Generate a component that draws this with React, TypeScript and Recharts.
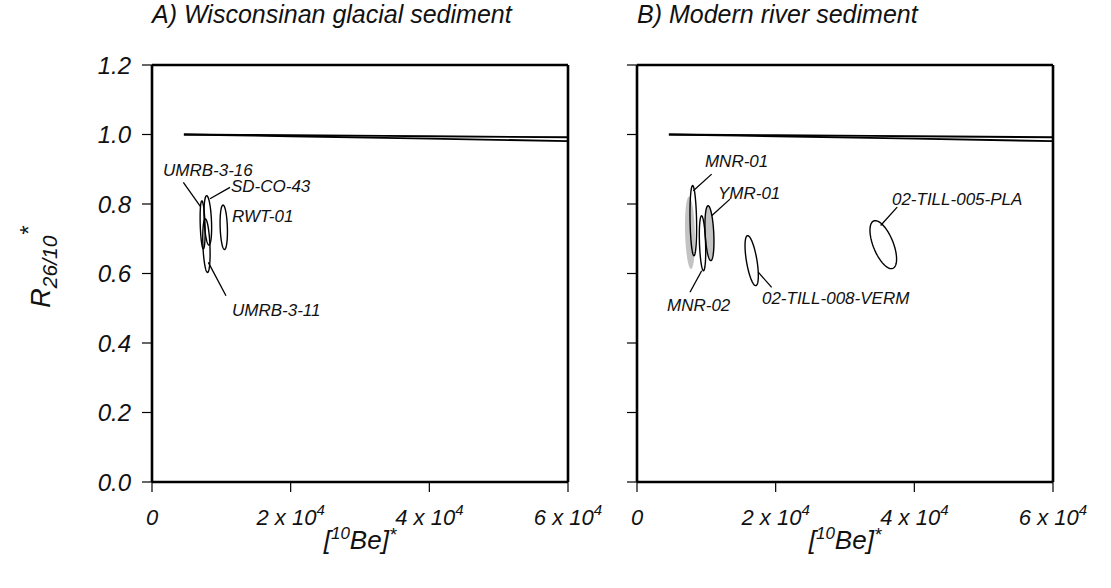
import { ComposedChart, Line, Area, Scatter, XAxis, YAxis, Label } from "recharts";

const FONT = '"Liberation Sans", Arial, Helvetica, sans-serif';

// axes
const X_TICKS = [0, 20000, 40000, 60000];
const Y_TICKS = [0, 0.2, 0.4, 0.6, 0.8, 1.0, 1.2];

// constant-exposure / steady-erosion curves near R = 1
const CURVE_UPPER = [
  { x: 4600, y: 1.0 },
  { x: 20000, y: 0.998 },
  { x: 40000, y: 0.995 },
  { x: 60000, y: 0.992 },
];
const CURVE_LOWER = [
  { x: 4600, y: 1.0 },
  { x: 20000, y: 0.995 },
  { x: 40000, y: 0.988 },
  { x: 60000, y: 0.981 },
];

// A) glacial sediment ellipses
const GLACIAL_NAMES = ["UMRB-3-16", "SD-CO-43", "RWT-01", "UMRB-3-11"];
const GLACIAL_BE = [7300, 8050, 10350, 7850];
const GLACIAL_RATIO = [0.74, 0.753, 0.733, 0.68];
const GLACIAL_BE_ERR = [360, 550, 530, 530];
const GLACIAL_RATIO_ERR = [0.069, 0.071, 0.064, 0.077];
const GLACIAL_RHO = [-0.3, -0.3, -0.2, -0.3];
const GLACIAL_LABEL_X = [1590, 11390, 11540, 11540];
const GLACIAL_LABEL_Y = [0.882, 0.834, 0.747, 0.479];
const GLACIAL_LEADERS = [
  [4520, 0.862, 6970, 0.793],
  [11250, 0.848, 8360, 0.815],
  null,
  [10670, 0.536, 8120, 0.632],
];

// B) modern river sediment ellipses
const RIVER_NAMES = ["MNR-01", "MNR-02", "YMR-01", "02-TILL-008-VERM", "02-TILL-005-PLA"];
const RIVER_BE = [8120, 9450, 10450, 16540, 35520];
const RIVER_RATIO = [0.752, 0.687, 0.716, 0.637, 0.683];
const RIVER_BE_ERR = [480, 460, 650, 960, 1920];
const RIVER_RATIO_ERR = [0.101, 0.079, 0.079, 0.072, 0.069];
const RIVER_RHO = [-0.2, -0.3, -0.3, -0.6, -0.6];
const RIVER_SHADED = [false, false, true, false, false];
const RIVER_LABEL_X = [9800, 4330, 11680, 18020, 36770];
const RIVER_LABEL_Y = [0.907, 0.492, 0.814, 0.512, 0.797];
const RIVER_LEADERS = [
  [10770, 0.886, 8120, 0.838],
  [7640, 0.546, 9330, 0.608],
  [13410, 0.814, 10770, 0.766],
  [17490, 0.604, 19420, 0.56],
  [35140, 0.738, 37530, 0.791],
];
// unlabelled shaded ellipse behind MNR-01
const RIVER_EXTRA_SHADE = [7640, 0.717, 720, 0.104, -0.2];

type Ell = { cx: number; cy: number; a: number; b: number; rho: number; shaded: boolean; outline: boolean };

function outline(e: Ell, n = 96) {
  const k = Math.sqrt(1 - e.rho * e.rho);
  const pts = [];
  for (let i = 0; i <= n; i++) {
    const t = (2 * Math.PI * i) / n;
    pts.push({ x: e.cx + e.a * Math.cos(t), y: e.cy + e.b * (e.rho * Math.cos(t) + k * Math.sin(t)) });
  }
  return pts;
}

function band(e: Ell, n = 60) {
  const k = Math.sqrt(1 - e.rho * e.rho);
  const pts = [];
  for (let i = 0; i <= n; i++) {
    const u = -Math.cos((Math.PI * i) / n);
    const s = Math.sqrt(Math.max(0, 1 - u * u));
    pts.push({ x: e.cx + e.a * u, band: [e.cy + e.b * (e.rho * u - k * s), e.cy + e.b * (e.rho * u + k * s)] });
  }
  return pts;
}

const glacialEllipses: Ell[] = GLACIAL_NAMES.map((_, i) => ({
  cx: GLACIAL_BE[i], cy: GLACIAL_RATIO[i], a: GLACIAL_BE_ERR[i], b: GLACIAL_RATIO_ERR[i], rho: GLACIAL_RHO[i],
  shaded: false, outline: true,
}));
const riverEllipses: Ell[] = [
  {
    cx: RIVER_EXTRA_SHADE[0], cy: RIVER_EXTRA_SHADE[1], a: RIVER_EXTRA_SHADE[2], b: RIVER_EXTRA_SHADE[3], rho: RIVER_EXTRA_SHADE[4],
    shaded: true, outline: false,
  },
  ...RIVER_NAMES.map((_, i) => ({
    cx: RIVER_BE[i], cy: RIVER_RATIO[i], a: RIVER_BE_ERR[i], b: RIVER_RATIO_ERR[i], rho: RIVER_RHO[i],
    shaded: RIVER_SHADED[i], outline: true,
  })),
];
const glacialLabels = GLACIAL_NAMES.map((name, i) => ({ name, x: GLACIAL_LABEL_X[i], y: GLACIAL_LABEL_Y[i] }));
const riverLabels = RIVER_NAMES.map((name, i) => ({ name, x: RIVER_LABEL_X[i], y: RIVER_LABEL_Y[i] }));

const txt = { fontFamily: FONT, fontStyle: "italic" as const, fill: "#111" };
const frame = { stroke: "#000", strokeWidth: 2.6 };
const tickStroke = { stroke: "#000", strokeWidth: 1.2 };

const YTick = (p: any) => (
  <text x={p.x - 9} y={p.y} dy="0.36em" textAnchor="end" fontSize={24} {...txt}>
    {Number(p.payload.value).toFixed(1)}
  </text>
);

const XTick = (p: any) => {
  const v = p.payload.value;
  return (
    <text x={p.x} y={p.y + 31} textAnchor="middle" fontSize={22} {...txt}>
      {v === 0 ? (
        "0"
      ) : (
        <>
          <tspan>{`${v / 10000} x 10`}</tspan>
          <tspan dy={-10} fontSize={15}>4</tspan>
        </>
      )}
    </text>
  );
};

const NoTick = () => <g />;

interface PanelProps {
  left: number;
  width: number;
  yAxisWidth: number;
  marginRight: number;
  title: string;
  showYLabels: boolean;
  ellipses: Ell[];
  labels: { name: string; x: number; y: number }[];
  leaders: (number[] | null)[];
}

function Panel({ left, width, yAxisWidth, marginRight, title, showYLabels, ellipses, labels, leaders }: PanelProps) {
  return (
    <div style={{ position: "absolute", left, top: 0 }}>
      <ComposedChart width={width} height={588} margin={{ top: 55, right: marginRight, bottom: 0, left: 0 }}>
        <XAxis
          dataKey="x" type="number" domain={[0, 60000]} ticks={X_TICKS} height={106}
          tickSize={10} axisLine={frame} tickLine={tickStroke} tick={XTick} interval={0}
        >
          <Label
            content={({ viewBox }: any) => (
              <text x={viewBox.x + viewBox.width / 2} y={viewBox.y + 67} textAnchor="middle" fontSize={26} {...txt}>
                <tspan>[</tspan>
                <tspan dy={-10} fontSize={17}>10</tspan>
                <tspan dy={10}>Be]</tspan>
                <tspan dy={-8} fontSize={19}>*</tspan>
              </text>
            )}
          />
        </XAxis>
        <XAxis
          xAxisId="t" orientation="top" dataKey="x" type="number" domain={[0, 60000]} ticks={X_TICKS} height={10}
          tickSize={10} axisLine={frame} tickLine={tickStroke} tick={NoTick} interval={0}
        >
          <Label
            content={({ viewBox }: any) => (
              <text x={viewBox.x} y={viewBox.y - 32} textAnchor="start" fontSize={25} {...txt}>
                {title}
              </text>
            )}
          />
        </XAxis>
        <YAxis
          dataKey="y" type="number" domain={[0, 1.2]} ticks={Y_TICKS} width={yAxisWidth}
          tickSize={10} axisLine={frame} tickLine={tickStroke} tick={showYLabels ? YTick : NoTick} interval={0}
        >
          {showYLabels && (
            <Label
              content={() => (
                <text x={50} y={267} transform="rotate(-90 50 267)" textAnchor="middle" fontSize={27} {...txt}>
                  <tspan>R</tspan>
                  <tspan dy={7} fontSize={21}>26/10</tspan>
                  <tspan dy={-20} fontSize={24}>*</tspan>
                </text>
              )}
            />
          )}
        </YAxis>
        <YAxis
          yAxisId="r" orientation="right" type="number" domain={[0, 1.2]} ticks={Y_TICKS} width={10}
          tickSize={10} axisLine={frame} tickLine={tickStroke} tick={NoTick} interval={0}
        />

        <Line data={CURVE_UPPER} dataKey="y" type="monotone" stroke="#000" strokeWidth={1.9} dot={false} isAnimationActive={false} />
        <Line data={CURVE_LOWER} dataKey="y" type="monotone" stroke="#000" strokeWidth={1.9} dot={false} isAnimationActive={false} />

        {ellipses.map((e, i) =>
          e.shaded ? (
            <Area key={`s${i}`} data={band(e)} dataKey="band" type="linear" stroke="none" fill="#b4b4b4" fillOpacity={0.8} isAnimationActive={false} />
          ) : null
        )}
        {ellipses.map((e, i) =>
          e.outline ? (
            <Line key={`e${i}`} data={outline(e)} dataKey="y" type="linear" stroke="#000" strokeWidth={1.4} dot={false} isAnimationActive={false} />
          ) : null
        )}
        {leaders.map((l, i) =>
          l ? (
            <Line
              key={`l${i}`} data={[{ x: l[0], y: l[1] }, { x: l[2], y: l[3] }]} dataKey="y" type="linear"
              stroke="#000" strokeWidth={1.3} dot={false} isAnimationActive={false}
            />
          ) : null
        )}
        <Scatter
          data={labels} dataKey="y" isAnimationActive={false}
          shape={(p: any) => (
            <text x={p.cx} y={p.cy} fontSize={17} {...txt}>
              {p.payload.name}
            </text>
          )}
        />
      </ComposedChart>
    </div>
  );
}

export default function App() {
  return (
    <div style={{ position: "absolute", left: 0, top: 0, width: 1111, height: 588, background: "#fff" }}>
      <Panel
        left={0} width={620} yAxisWidth={152} marginRight={42}
        title="A) Wisconsinan glacial sediment" showYLabels
        ellipses={glacialEllipses} labels={glacialLabels} leaders={GLACIAL_LEADERS}
      />
      <Panel
        left={560} width={551} yAxisWidth={77} marginRight={48}
        title="B) Modern river sediment" showYLabels={false}
        ellipses={riverEllipses} labels={riverLabels} leaders={RIVER_LEADERS}
      />
    </div>
  );
}
